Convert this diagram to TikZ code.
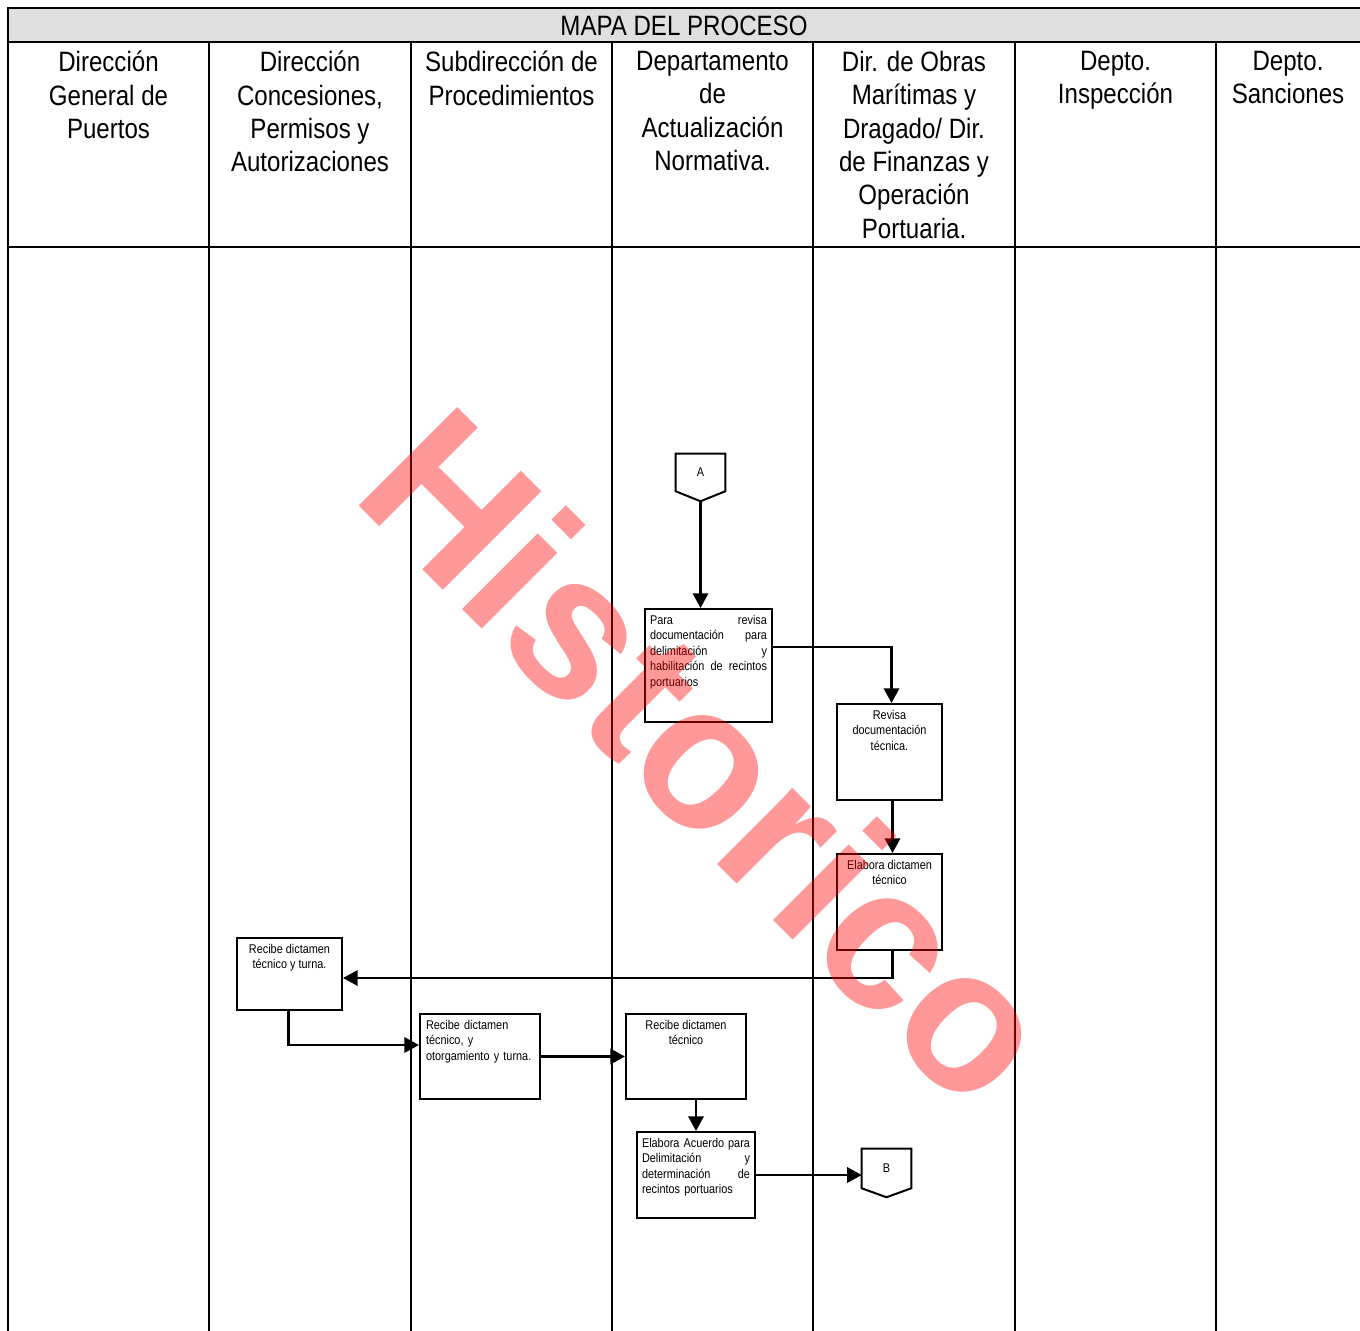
\documentclass[tikz,border=0pt]{standalone}
\usepackage{fontspec}
\setmainfont{Liberation Sans}[FakeStretch=0.86]
\newfontfamily\markfont{Liberation Sans}
\usetikzlibrary{arrows.meta, positioning, calc}
\newlength{\px}\setlength{\px}{0.75pt}

\tikzset{
  lane/.style={line width=1.5pt},
  head/.style={anchor=north, align=center, inner sep=0pt, font=\fontsize{21}{25}\selectfont},
  box/.style={draw, line width=1.5pt, anchor=north west, inner sep=0pt},
  boxtext/.style={anchor=north, inner sep=0pt, yshift=-7\px, font=\fontsize{9.5}{11.6}\selectfont},
  offpage/.style={inner sep=0pt, font=\fontsize{9.5}{11.6}\selectfont},
  flow/.style={line width=1.8pt, -{Triangle[length=11pt, width=11.5pt]}},
  wmark/.style={anchor=base west, rotate=-45, inner sep=0pt, text=red, text opacity=0.4,
    font=\markfont\bfseries\fontsize{152}{160}\selectfont}
}

\begin{document}
\begin{tikzpicture}[x=0.75pt, y=-0.75pt]
\clip (0,0) rectangle (1360,1331);

% cuadro de carriles
\fill[gray!25] (8,8) rectangle (1364,42);
\draw[lane] (1364,8) -- (8,8) -- (8,1335);
\draw[lane] (8,42) -- (1364,42);
\draw[lane] (8,247) -- (1364,247);
\foreach \x in {209,411,612,813,1015,1216}
  \draw[lane] (\x,42) -- (\x,1335);
\node[font=\fontsize{21}{25}\selectfont] (titulo) at (684,26) {MAPA DEL PROCESO};

% encabezados
\node[head] (dgp) at (108.5,51) {Dirección\\General de\\Puertos};
\node[head] (dcpa) at (310,51) {Dirección\\Concesiones,\\Permisos y\\Autorizaciones};
\node[head] (sp) at (511.5,51) {Subdirección de\\Procedimientos};
\node[head] (dan) at (712.5,51) {Departamento\\de\\Actualización\\Normativa.};
\node[head] (dom) at (914,51) {Dir. de Obras\\Marítimas y\\Dragado/ Dir.\\de Finanzas y\\Operación\\Portuaria.};
\node[head] (dins) at (1115.5,51) {Depto.\\Inspección};
\node[head] (dsan) at (1288,51) {Depto.\\Sanciones};

% conector A
\node[offpage, minimum width=49\px, minimum height=37\px] (offA) at (700.5,472.5) {A};
\coordinate (tipA) at ($(offA.south)+(0,10)$);
\draw[line width=1.5pt] (offA.north west) -- (offA.north east) -- (offA.south east)
  -- (tipA) -- (offA.south west) -- cycle;

% actividades
\node[box, minimum width=127\px, minimum height=113\px,
  label={[boxtext, text width=117\px, align=left]north:Para\hfill revisa\\documentación\hfill para\\delimitación\hfill y\\habilitación\hfill de\hfill recintos\\portuarios}]
  (revisa) at (644,608) {};
\node[box, minimum width=105\px, minimum height=96\px,
  label={[boxtext, align=center]north:Revisa\\documentación\\técnica.}]
  (revdoc) at (836,703) {};
\node[box, minimum width=105\px, minimum height=96\px,
  label={[boxtext, align=center]north:Elabora dictamen\\técnico}]
  (dictamen) at (836,853) {};
\node[box, minimum width=105\px, minimum height=72\px,
  label={[boxtext, align=center]north:Recibe dictamen\\técnico y turna.}]
  (recibe1) at (236,937) {};
\node[box, minimum width=120\px, minimum height=85\px,
  label={[boxtext, text width=108\px, align=left]north:Recibe dictamen\\técnico, y\\otorgamiento y turna.}]
  (recibe2) at (419,1013) {};
\node[box, minimum width=120\px, minimum height=85\px,
  label={[boxtext, align=center]north:Recibe dictamen\\técnico}]
  (recibe3) at (625,1013) {};
\node[box, minimum width=118\px, minimum height=86\px,
  label={[boxtext, text width=108\px, align=left]north:Elabora\hfill Acuerdo\hfill para\\Delimitación\hfill y\\determinación\hfill de\\recintos portuarios}]
  (acuerdo) at (636,1131) {};

% conector B
\node[offpage, minimum width=49\px, minimum height=39\px] (offB) at (886.5,1168.5) {B};
\coordinate (tipB) at ($(offB.south)+(0,9)$);
\draw[line width=1.5pt] (offB.north west) -- (offB.north east) -- (offB.south east)
  -- (tipB) -- (offB.south west) -- cycle;

% flujo
\draw[flow] (tipA) -- (tipA |- revisa.north);
\draw[flow] ($(revisa.north east)+(0,39)$) -| ([xshift=2\px]revdoc.north);
\draw[flow] ([xshift=3\px]revdoc.south) -- ([xshift=3\px]dictamen.north);
\draw[flow] ([xshift=3\px]dictamen.south) |- ([yshift=-4\px]recibe1.east);
\draw[flow] ([xshift=-1\px]recibe1.south) |- ([yshift=11.5\px]recibe2.west);
\draw[flow] (recibe2.east) -- (recibe3.west);
\draw[flow] (recibe3.south -| acuerdo.north) -- (acuerdo.north);
\draw[flow] (acuerdo.east) -- (acuerdo.east -| offB.west);

% marca de agua
\node[wmark] (marca) at (349,496) {Historico};
\end{tikzpicture}
\end{document}
